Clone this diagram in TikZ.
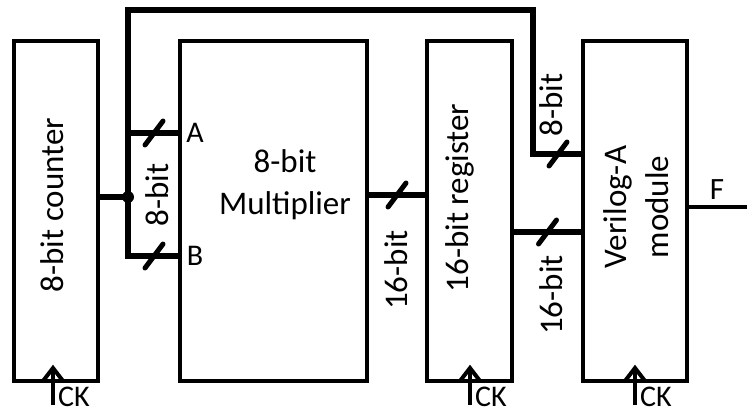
\documentclass[tikz,border=0pt]{standalone}
\usepackage{fontspec}
\setmainfont{Carlito}
\usetikzlibrary{positioning, calc}

\begin{document}
\begin{tikzpicture}[x=1pt, y=-1pt,
      block/.style={draw, rectangle, line width=4pt, inner sep=0pt, outer sep=0pt,
                    minimum height=340pt},
      txt/.style={font=\fontsize{33}{42}\selectfont, align=center, inner sep=0pt},
      pin/.style={font=\fontsize{30}{34}\selectfont, inner sep=0pt},
      bus/.style={line width=5.5pt, line join=miter},
      wire/.style={line width=4pt},
      tick/.style={line width=5pt, line cap=round},
      clk/.style={line width=4pt, line join=miter}
    ]
    \useasboundingbox (0,0) rectangle (747,416);

    % blocks
    \node[block, minimum width=84pt]  (cnt) at (56,211)    {};
    \node[block, minimum width=187pt] (mul) at (273.5,211) {};
    \node[block, minimum width=85pt]  (reg) at (469.5,211) {};
    \node[block, minimum width=104pt] (va)  at (635,211)   {};

    \node[txt, rotate=90] (cnttxt) at (52,205)  {8-bit counter};
    \node[txt]            (multxt) at (285,185) {8-bit\\Multiplier};
    \node[txt, rotate=90] (regtxt) at (460,198) {16-bit register};
    \node[txt, rotate=90] (vatxt)  at (636,207) {Verilog-A\\module};

    % bus points
    \coordinate (dot)  at (128,197);
    \coordinate (top)  at (128,10);
    \coordinate (turn) at (533,10);
    \coordinate (vin)  at (533,154);
    \coordinate (inA)  at (128,133);
    \coordinate (inB)  at (128,256);
    \coordinate (mout) at (367,195);
    \coordinate (rout) at (512,232);
    \coordinate (fout) at (747,207);

    \draw[bus] (dot -| cnt.east) -- (dot);
    \draw[bus] (inB -| mul.west) -- coordinate (sB) (inB) -- (top) -- (turn) -- (vin)
               -- coordinate (s8) (vin -| va.west);
    \draw[bus] (inA) -- coordinate (sA) (inA -| mul.west);
    \draw[bus] (mout -| mul.east) -- coordinate (sM) (mout -| reg.west);
    \draw[bus] (rout -| reg.east) -- coordinate (sR) (rout -| va.west);
    \draw[wire] (fout -| va.east) -- (fout);
    \fill (dot) circle (6);

    % bus width marks
    \foreach \s in {sA, sB, sM, sR, s8}
      \draw[tick] ($(\s)+(-9,12)$) -- ($(\s)+(9,-12)$);

    \node[pin] (pa) at (195,133) {A};
    \node[pin] (pb) at (195,256) {B};
    \node[txt, rotate=90] (wab)  at (157,195) {8-bit};
    \node[txt, rotate=90] (wmul) at (396,270) {16-bit};
    \node[txt, rotate=90] (wreg) at (551,295) {16-bit};
    \node[txt, rotate=90] (wtop) at (551,105) {8-bit};
    \node[font=\fontsize{31}{36}\selectfont, inner sep=0pt] (fo) at (717,190) {F};

    % clocks
    \foreach \cx/\nm in {53/ckc, 470/ckr, 635/ckv} {
      \coordinate (\nm) at (\cx,381);
      \draw[clk] (\nm) ++(0,24) -- ++(0,-37);
      \draw[clk] ($(\nm)+(-10,0)$) -- ++(10,-13) -- ++(10,13);
      \node[font=\fontsize{30}{34}\selectfont, inner sep=0pt, anchor=west]
        (\nm txt) at ($(\nm)+(5,16)$) {CK};
    }
  \end{tikzpicture}
\end{document}
